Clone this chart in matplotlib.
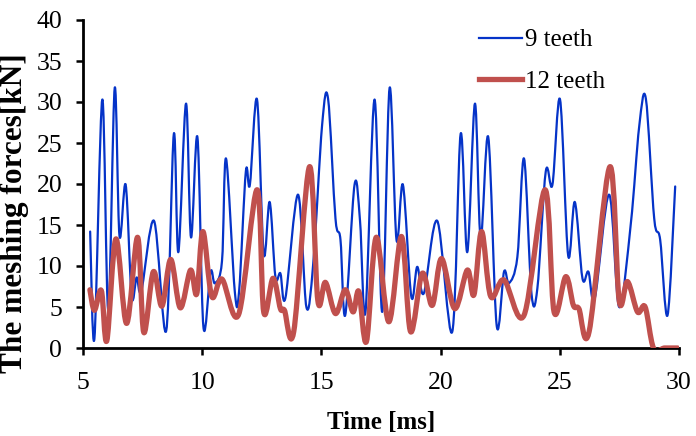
import numpy as np
import matplotlib
matplotlib.use('Agg')
from matplotlib import pyplot as plt
from matplotlib.path import Path
from matplotlib.patches import PathPatch
from matplotlib.lines import Line2D

# data (time in ms, force in kN)
t9 = [5.30, 5.48, 5.81, 6.06, 6.33, 6.53, 6.79, 7.04, 7.25, 7.45, 7.98, 8.49,
      8.81, 9.00, 9.32, 9.53, 9.80, 10.05, 10.35, 10.53, 10.83, 11.00, 11.37,
      11.55, 11.83, 12.00, 12.30, 12.58, 12.83, 13.07, 13.28, 13.49, 14.02,
      14.37, 14.66, 15.03, 15.28, 15.59, 15.80, 16.00, 16.39, 16.62, 16.85,
      17.23, 17.55, 17.86, 18.15, 18.42, 18.77, 19.02, 19.30, 19.86, 20.49,
      20.84, 21.12, 21.44, 21.68, 22.00, 22.35, 22.66, 22.87, 23.22, 23.50,
      23.81, 24.06, 24.41, 24.69, 25.01, 25.35, 25.63, 25.95, 26.20, 26.47,
      27.07, 27.49, 27.98, 28.33, 28.61, 28.96, 29.21, 29.52, 29.84]
f9 = [14.2, 1.2, 30.3, 4.6, 31.7, 13.7, 19.9, 6.3, 8.6, 7.0, 15.5, 2.1,
      26.1, 11.7, 29.8, 13.5, 25.7, 2.6, 9.3, 7.9, 10.6, 23.1, 6.8,
      7.0, 21.5, 19.9, 30.3, 11.5, 17.8, 8.7, 9.1, 6.1, 18.7,
      5.0, 10.4, 27.2, 30.4, 15.8, 13.2, 4.0, 19.9, 15.5, 4.4,
      30.3, 4.4, 31.7, 13.2, 19.9, 6.3, 9.9, 6.7, 15.5, 2.0,
      26.1, 11.7, 29.8, 13.4, 25.7, 2.8, 9.3, 7.9, 11.1, 23.1,
      6.7, 7.3, 21.5, 19.9, 30.3, 11.3, 17.8, 8.5, 9.3, 6.1,
      18.7, 5.0, 15.2, 27.0, 30.4, 15.8, 13.2, 4.0, 19.7]

t12 = [5.29, 5.48, 5.77, 6.00, 6.38, 6.83, 7.29, 7.55, 7.95, 8.31, 8.68,
       9.08, 9.51, 9.77, 10.03, 10.40, 10.83, 11.53, 12.30, 12.58, 12.97,
       13.28, 13.45, 13.84, 14.50, 14.85, 15.17, 15.59, 16.00, 16.33, 16.57,
       16.89, 17.30, 17.83, 18.36, 18.74, 19.23, 19.65, 20.04, 20.59, 21.12,
       21.40, 21.72, 22.10, 22.66, 23.50, 24.38, 24.76, 25.25, 25.57, 25.80,
       26.23, 27.10, 27.49, 27.84, 28.26, 28.58, 28.93, 29.40, 29.94]
f12 = [7.1, 4.6, 7.0, 0.9, 13.3, 3.0, 13.5, 1.9, 9.3, 5.1, 10.8,
       4.9, 9.5, 6.6, 14.2, 6.3, 8.4, 4.1, 19.3, 4.4, 8.5,
       4.8, 4.6, 2.0, 22.1, 5.8, 8.0, 4.2, 7.1, 4.4, 6.9,
       0.8, 13.5, 3.2, 13.6, 2.0, 9.1, 5.2, 10.9, 4.8, 9.5,
       6.5, 14.2, 6.3, 8.3, 4.0, 19.3, 4.4, 8.7, 5.2, 4.8,
       2.0, 22.1, 5.8, 8.1, 4.4, 5.0, 0.0, 0.0, 0.0]

blue = '#0533C8'
red = '#C0504D'


def smooth_path(x, y):
    """Bezier path through the points, like a smoothed Excel line"""
    pts = np.column_stack([x, y]).astype(float)
    verts = [pts[0]]
    codes = [Path.MOVETO]
    n = len(pts)
    for i in range(n - 1):
        p0 = pts[i - 1] if i > 0 else pts[i]
        p1 = pts[i]
        p2 = pts[i + 1]
        p3 = pts[i + 2] if i + 2 < n else pts[i + 1]
        verts += [p1 + (p2 - p0) / 6.0, p2 - (p3 - p1) / 6.0, p2]
        codes += [Path.CURVE4] * 3
    return Path(verts, codes)


plt.rcParams['font.family'] = ['Liberation Serif', 'DejaVu Serif']

fig = plt.figure(figsize=(6.96, 4.36), dpi=100)
ax = fig.add_axes([83 / 696, 1 - 348 / 436, 596 / 696, 328 / 436])

ax.add_patch(PathPatch(smooth_path(t9, f9), facecolor='none', edgecolor=blue,
                       lw=1.6, capstyle='round', joinstyle='round', zorder=2))
ax.add_patch(PathPatch(smooth_path(t12, f12), facecolor='none', edgecolor=red,
                       lw=3.8, capstyle='round', joinstyle='round', zorder=3))

ax.set_xlim(5, 30)
ax.set_ylim(0, 40)
ax.set_xticks(np.arange(5, 31, 5))
ax.set_yticks(np.arange(0, 41, 5))

for s in ['top', 'right']:
    ax.spines[s].set_visible(False)
for s in ['left', 'bottom']:
    ax.spines[s].set_linewidth(2.0)
    ax.spines[s].set_color('black')
ax.tick_params(direction='out', length=5, width=1.8, labelsize=18.5)
ax.tick_params(axis='x', pad=12)
ax.tick_params(axis='y', pad=10)

ax.set_xlabel('Time [ms]', fontsize=18, fontweight='bold', va='bottom')
ax.xaxis.set_label_coords(0.5, -0.262)
ax.set_ylabel('The meshing forces[kN]', fontsize=22.5, fontweight='bold')
ax.yaxis.set_label_coords(-0.09, 0.41)

handles = [Line2D([], [], color=blue, lw=1.6), Line2D([], [], color=red, lw=3.8)]
fig.legend(handles, ['9 teeth', '12 teeth'], loc='upper left',
           bbox_to_anchor=(479 / 696, 1 - 29 / 436), frameon=False, fontsize=18,
           borderpad=0, borderaxespad=0, handlelength=1.7, handletextpad=0.15,
           labelspacing=0.75)

fig.savefig('out.png', dpi=100)
